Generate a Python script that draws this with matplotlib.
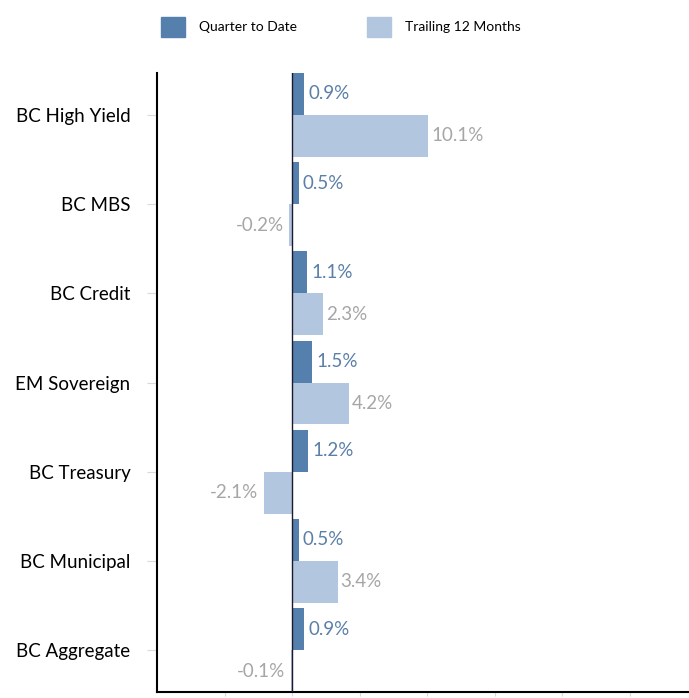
import matplotlib.pyplot as plt
import numpy as np
from matplotlib.patches import Patch

plt.rcParams["font.family"] = ["Lato", "DejaVu Sans"]

categories = ["BC High Yield", "BC MBS", "BC Credit", "EM Sovereign",
              "BC Treasury", "BC Municipal", "BC Aggregate"]
qtd = [0.9, 0.5, 1.1, 1.5, 1.2, 0.5, 0.9]
t12m = [10.1, -0.2, 2.3, 4.2, -2.1, 3.4, -0.1]
series_names = ["Quarter to Date", "Trailing 12 Months"]

dark = "#5580AE"
light = "#B3C6DF"
dark_txt = "#5A7FA8"
gray_txt = "#A6A6A6"

fig = plt.figure(figsize=(6.89, 6.98), dpi=100)
ax = fig.add_axes([157 / 689, 6 / 698, 540 / 689, 619 / 698])

y = np.arange(len(categories))
h = 0.47
ax.barh(y - h / 2, qtd, height=h, color=dark, zorder=2)
ax.barh(y + h / 2, t12m, height=h, color=light, zorder=2)
ax.axvline(0, color="#1a1a2e", lw=1.0, zorder=3)

for yi, v in zip(y - h / 2, qtd):
    ax.annotate(f"{v:.1f}%", (v, yi), xytext=(3 if v >= 0 else -3, 0),
                textcoords="offset points", va="center",
                ha="left" if v >= 0 else "right", color=dark_txt, fontsize=13.5)
for yi, v in zip(y + h / 2, t12m):
    ax.annotate(f"{v:.1f}%", (v, yi), xytext=(2 if v >= 0 else -4, 0),
                textcoords="offset points", va="center",
                ha="left" if v >= 0 else "right", color=gray_txt, fontsize=13.5)

ax.set_xlim(-10, 30)
ax.set_ylim(len(categories) - 0.53, -0.47)
ax.set_xticks(np.arange(-5, 30, 5))
ax.set_xticklabels([])
ax.set_yticks(y)
ax.set_yticklabels(categories, fontsize=13.5)

ax.tick_params(axis="y", length=7, color="#D9D9D9", pad=12)
ax.tick_params(axis="x", length=3, color="#D9D9D9")
for s in ["top", "right"]:
    ax.spines[s].set_visible(False)
ax.spines["left"].set_linewidth(1.5)
ax.spines["bottom"].set_linewidth(1.5)

handles = [Patch(color=dark), Patch(color=light)]
fig.legend(handles, series_names, loc="center left",
           bbox_to_anchor=(161 / 689, 1 - 27 / 698), ncol=2, frameon=False,
           fontsize=10, handlelength=1.75, handleheight=1.75, handletextpad=1.0,
           columnspacing=5.0, borderpad=0, borderaxespad=0)

fig.savefig("out.png", dpi=100)
